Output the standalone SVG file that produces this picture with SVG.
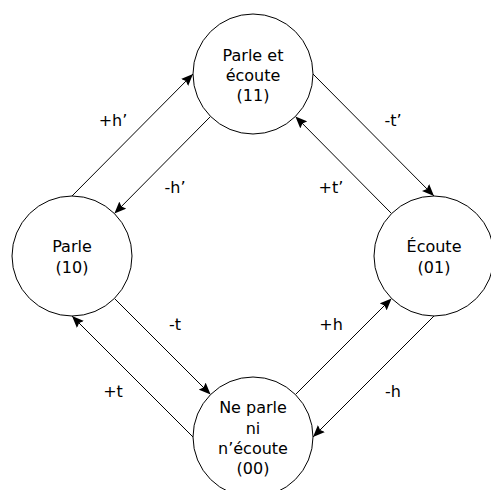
<svg xmlns="http://www.w3.org/2000/svg" width="491" height="490" viewBox="0 0 491 490">
<defs>
<marker id="arr" markerUnits="userSpaceOnUse" markerWidth="13" markerHeight="10" refX="12" refY="5" orient="auto">
<path d="M0,0 L12,5 L0,10 L2,5 z" fill="#000"/>
</marker>
<style>
.node circle{fill:#fff;stroke:#000;stroke-width:1}
text{font-family:"DejaVu Sans",Verdana,sans-serif;font-size:16px;fill:#000;text-anchor:middle}
.edge{stroke:#000;stroke-width:1;fill:none;marker-end:url(#arr)}
</style>
</defs>
<rect width="491" height="490" fill="#fff"/>
<g id="connectors">
<line class="edge" x1="72" y1="196" x2="193" y2="74"/>
<line class="edge" x1="210.6" y1="116.4" x2="114.4" y2="213.6"/>
<line class="edge" x1="313" y1="74" x2="434" y2="196"/>
<line class="edge" x1="391.6" y1="213.6" x2="295.4" y2="116.4"/>
<line class="edge" x1="114.4" y1="298.4" x2="210.6" y2="394.6"/>
<line class="edge" x1="193" y1="437" x2="72" y2="316"/>
<line class="edge" x1="295.4" y1="394.6" x2="391.6" y2="298.4"/>
<line class="edge" x1="434" y1="316" x2="313" y2="437"/>
<text x="113" y="126">+h’</text>
<text x="175" y="193">-h’</text>
<text x="393" y="126">-t’</text>
<text x="331" y="193">+t’</text>
<text x="175" y="330">-t</text>
<text x="113" y="397">+t</text>
<text x="331" y="330">+h</text>
<text x="393" y="397">-h</text>
</g>
<g id="n11" class="node">
<circle cx="253" cy="74" r="60"/>
<text x="253" y="61">Parle et</text>
<text x="253" y="81">écoute</text>
<text x="253" y="101">(11)</text>
</g>
<g id="n10" class="node">
<circle cx="72" cy="256" r="60"/>
<text x="72" y="252">Parle</text>
<text x="72" y="273">(10)</text>
</g>
<g id="n01" class="node">
<circle cx="434" cy="256" r="60"/>
<text x="434" y="252">Écoute</text>
<text x="434" y="273">(01)</text>
</g>
<g id="n00" class="node">
<circle cx="253" cy="437" r="60"/>
<text x="253" y="413">Ne parle</text>
<text x="253" y="434">ni</text>
<text x="253" y="454">n’écoute</text>
<text x="253" y="474">(00)</text>
</g>
</svg>
